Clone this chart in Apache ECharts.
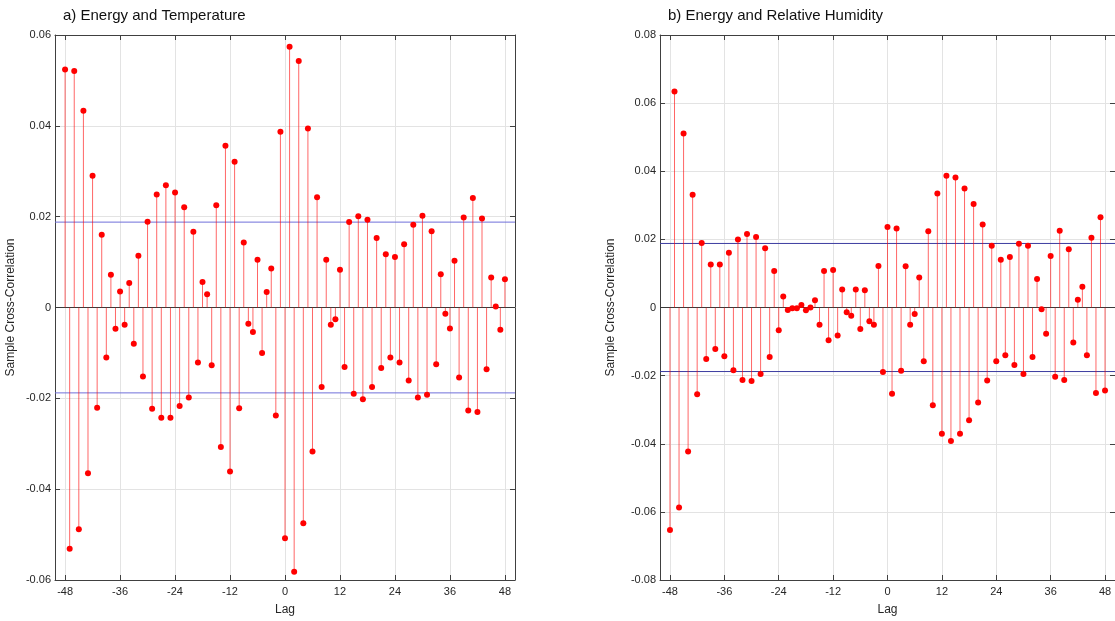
<!DOCTYPE html>
<html>
<head>
<meta charset="utf-8">
<script src="https://cdn.jsdelivr.net/npm/echarts@6/dist/echarts.min.js"></script>
<style>
  html, body { margin: 0; padding: 0; background: #ffffff; }
  #chart { width: 1115px; height: 621px; }
</style>
</head>
<body>
<div id="chart"></div>
<script>
// Lags -48 … 48 (hours)
const lags = [];
for (let k = -48; k <= 48; k++) lags.push(k);

const lagTicks = [-48, -36, -24, -12, 0, 12, 24, 36, 48];
const lagRange = [-50.2, 50.2];

// a) sample cross-correlation, energy vs temperature
const tempCorr = [
  0.0524, -0.0531, 0.0521, -0.0488, 0.0433, -0.0365, 0.0290, -0.0221, 0.0160, -0.0110,
  0.0072, -0.0047, 0.0035, -0.0038, 0.0054, -0.0080, 0.0114, -0.0152, 0.0189, -0.0223,
  0.0249, -0.0243, 0.0269, -0.0243, 0.0253, -0.0217, 0.0221, -0.0198, 0.0167, -0.0121,
  0.0056, 0.0029, -0.0127, 0.0225, -0.0307, 0.0356, -0.0361, 0.0321, -0.0222, 0.0143,
  -0.0036, -0.0054, 0.0105, -0.0100, 0.0034, 0.0086, -0.0238, 0.0387, -0.0508, 0.0574,
  -0.0582, 0.0543, -0.0475, 0.0394, -0.0317, 0.0243, -0.0175, 0.0105, -0.0038, -0.0026,
  0.0083, -0.0131, 0.0188, -0.0190, 0.0201, -0.0202, 0.0193, -0.0175, 0.0153, -0.0133,
  0.0117, -0.0110, 0.0111, -0.0121, 0.0139, -0.0161, 0.0182, -0.0198, 0.0202, -0.0192,
  0.0168, -0.0125, 0.0073, -0.0014, -0.0046, 0.0103, -0.0154, 0.0198, -0.0227, 0.0241,
  -0.0230, 0.0196, -0.0136, 0.0066, 0.0002, -0.0049, 0.0062
];

// b) sample cross-correlation, energy vs relative humidity
const humCorr = [
  -0.0653, 0.0634, -0.0587, 0.0511, -0.0423, 0.0331, -0.0255, 0.0189, -0.0151, 0.0126,
  -0.0122, 0.0126, -0.0143, 0.0161, -0.0184, 0.0200, -0.0213, 0.0216, -0.0216, 0.0207,
  -0.0195, 0.0174, -0.0145, 0.0107, -0.0067, 0.0032, -0.0007, -0.0002, -0.0002, 0.0007,
  -0.0008, 0.0000, 0.0021, -0.0051, 0.0107, -0.0096, 0.0110, -0.0082, 0.0053, -0.0014,
  -0.0024, 0.0053, -0.0063, 0.0051, -0.0040, -0.0051, 0.0122, -0.0189, 0.0236, -0.0253,
  0.0232, -0.0186, 0.0121, -0.0051, -0.0019, 0.0088, -0.0158, 0.0224, -0.0287, 0.0335,
  -0.0371, 0.0387, -0.0392, 0.0382, -0.0371, 0.0349, -0.0331, 0.0304, -0.0279, 0.0244,
  -0.0214, 0.0181, -0.0158, 0.0140, -0.0140, 0.0148, -0.0169, 0.0187, -0.0195, 0.0181,
  -0.0145, 0.0084, -0.0005, -0.0077, 0.0151, -0.0203, 0.0225, -0.0213, 0.0171, -0.0103,
  0.0023, 0.0061, -0.0140, 0.0205, -0.0251, 0.0265, -0.0244
];

// approximate 95% confidence bounds
const bounds = [0.0188, -0.0188];

const titles = ['a) Energy and Temperature', 'b) Energy and Relative Humidity'];
const yRanges = [[-0.06, 0.06], [-0.08, 0.08]];

const FONT = 'Liberation Sans, Arial, Helvetica, sans-serif';
const AXIS_COLOR = '#404040';
const TEXT_COLOR = '#262626';
const GRID_COLOR = '#e3e3e3';
const STEM_COLOR = 'rgba(255, 0, 0, 0.6)';
const DOT_COLOR = '#ff0000';
const BOUND_COLORS = ['#7070da', '#3c3ca0'];

const chart = echarts.init(document.getElementById('chart'), null, { renderer: 'canvas' });

const gridLefts = [55, 660];
const gridWidths = [460, 462];
const grids = gridLefts.map((l, i) => ({ left: l, top: 35, width: gridWidths[i], height: 546 }));

const xAxes = [], yAxes = [], series = [];
[0, 1].forEach(g => {
  xAxes.push({
    type: 'value', gridIndex: g, min: lagRange[0], max: lagRange[1], position: 'bottom',
    name: 'Lag', nameLocation: 'middle', nameGap: 24,
    nameTextStyle: { fontFamily: FONT, fontSize: 12, color: TEXT_COLOR },
    axisLine: { onZero: false, lineStyle: { color: AXIS_COLOR, width: 1 } },
    axisTick: { show: true, inside: true, length: 5, customValues: lagTicks, lineStyle: { color: AXIS_COLOR } },
    axisLabel: { customValues: lagTicks, fontFamily: FONT, fontSize: 11, color: TEXT_COLOR, margin: 6 },
    splitLine: { show: true, lineStyle: { color: GRID_COLOR, width: 1 } }
  });
  xAxes.push({
    type: 'value', gridIndex: g, min: lagRange[0], max: lagRange[1], position: 'top',
    axisLine: { onZero: false, lineStyle: { color: AXIS_COLOR, width: 1 } },
    axisTick: { show: true, inside: true, length: 5, customValues: lagTicks, lineStyle: { color: AXIS_COLOR } },
    axisLabel: { show: false },
    splitLine: { show: false }
  });
  yAxes.push({
    type: 'value', gridIndex: g, min: yRanges[g][0], max: yRanges[g][1], interval: 0.02,
    position: 'left',
    name: 'Sample Cross-Correlation', nameLocation: 'middle', nameGap: g === 0 ? 38 : 43,
    nameTextStyle: { fontFamily: FONT, fontSize: 12, color: TEXT_COLOR },
    axisLine: { show: true, onZero: false, lineStyle: { color: AXIS_COLOR, width: 1 } },
    axisTick: { show: true, inside: true, length: 5, lineStyle: { color: AXIS_COLOR } },
    axisLabel: {
      fontFamily: FONT, fontSize: 11, color: TEXT_COLOR, margin: 4,
      formatter: v => (Math.abs(v) < 1e-9 ? '0' : String(+v.toFixed(2)))
    },
    splitLine: { show: true, lineStyle: { color: GRID_COLOR, width: 1 } }
  });
  yAxes.push({
    type: 'value', gridIndex: g, min: yRanges[g][0], max: yRanges[g][1], interval: 0.02,
    position: 'right',
    axisLine: { show: true, onZero: false, lineStyle: { color: AXIS_COLOR, width: 1 } },
    axisTick: { show: true, inside: true, length: 5, lineStyle: { color: AXIS_COLOR } },
    axisLabel: { show: false },
    splitLine: { show: false }
  });

  const values = g === 0 ? tempCorr : humCorr;
  const pts = lags.map((l, i) => [l, values[i]]);

  // zero baseline
  series.push({
    type: 'line', xAxisIndex: g * 2, yAxisIndex: g * 2, silent: true, z: 1,
    symbol: 'none', lineStyle: { color: '#3a3a3a', width: 1 },
    data: [[lagRange[0], 0], [lagRange[1], 0]]
  });

  // confidence bounds
  bounds.forEach(b => {
    series.push({
      type: 'line', xAxisIndex: g * 2, yAxisIndex: g * 2, silent: true, z: 1,
      symbol: 'none', lineStyle: { color: BOUND_COLORS[g], width: 1 },
      data: [[lagRange[0], b], [lagRange[1], b]]
    });
  });

  // stems from the zero baseline to each value
  series.push({
    type: 'custom', xAxisIndex: g * 2, yAxisIndex: g * 2, silent: true, z: 2,
    encode: { x: 0, y: 1 },
    data: pts,
    renderItem: (params, api) => {
      const x = api.value(0), y = api.value(1);
      const p0 = api.coord([x, 0]);
      const p1 = api.coord([x, y]);
      return {
        type: 'line',
        shape: { x1: p0[0], y1: p0[1], x2: p1[0], y2: p1[1] },
        style: { stroke: STEM_COLOR, lineWidth: 1 }
      };
    }
  });

  // stem heads
  series.push({
    type: 'scatter', xAxisIndex: g * 2, yAxisIndex: g * 2, z: 4,
    symbol: 'circle', symbolSize: 6,
    itemStyle: { color: DOT_COLOR, opacity: 1 },
    data: pts
  });
});

chart.setOption({
  animation: false,
  backgroundColor: '#ffffff',
  title: titles.map((t, i) => ({
    text: t, left: gridLefts[i] + 3, top: 3,
    textStyle: { fontFamily: FONT, fontSize: 15, fontWeight: 'normal', color: '#111111' }
  })),
  grid: grids,
  xAxis: xAxes,
  yAxis: yAxes,
  series: series
});
</script>
</body>
</html>
